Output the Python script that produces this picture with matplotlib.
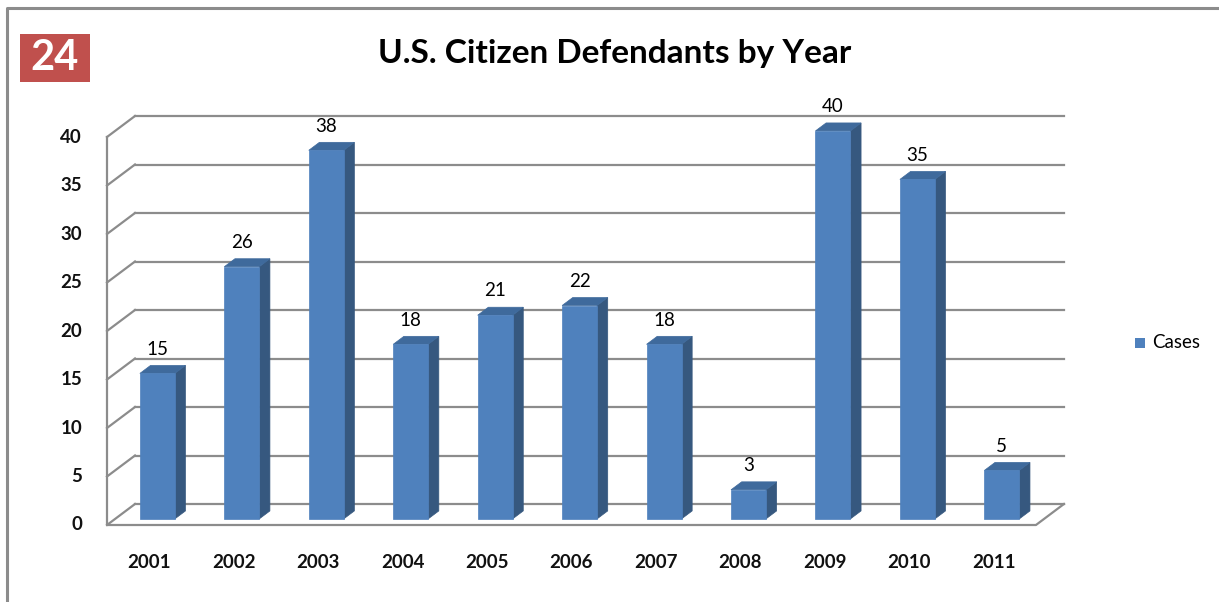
import matplotlib
matplotlib.use('Agg')
import matplotlib.pyplot as plt
from matplotlib.patches import Polygon, Rectangle
from matplotlib.lines import Line2D

# data
years = ['2001', '2002', '2003', '2004', '2005', '2006', '2007', '2008', '2009', '2010', '2011']
cases = [15, 26, 38, 18, 21, 22, 18, 3, 40, 35, 5]
y_ticks = [0, 5, 10, 15, 20, 25, 30, 35, 40]
series_name = 'Cases'
title = 'U.S. Citizen Defendants by Year'
badge = '24'

plt.rcParams['font.family'] = ['Lato', 'DejaVu Sans']

W, H = 1219, 602
fig = plt.figure(figsize=(W / 100, H / 100), dpi=100)

# pseudo-3D layout (pixel geometry of the front plane)
slot_px = 84.45    # width of one category slot
unit_px = 9.7      # pixels per value unit
x0_px = 107        # left edge of front plane
y0_px = 525        # front baseline (from top)
DX = 28 / slot_px  # depth offset in x (category units)
DY = 21 / unit_px  # depth offset in y (value units)
d0, d1 = 0.29, 0.67  # bar depth span
bw = 0.414          # bar width in slots

ax = fig.add_axes([0, 0, 1, 1])
ax.set_xlim(-0.5 - x0_px / slot_px, -0.5 + (W - x0_px) / slot_px)
ax.set_ylim(-(H - y0_px) / unit_px, y0_px / unit_px)
ax.axis('off')


def proj(x, v, d):
    return (x + d * DX, v + d * DY)


n = len(years)
xl_all, xr_all = -0.5, n - 0.5
vmax = max(y_ticks)
grid_c = '#8c8c8c'
glw = 1.6

# back wall gridlines and side wall diagonals
for t in y_ticks:
    a = proj(xl_all, t, 1)
    b = proj(xr_all, t, 1)
    ax.add_line(Line2D([a[0], b[0]], [a[1], b[1]], color=grid_c, lw=glw, zorder=1))
    c = proj(xl_all, t, 0)
    ax.add_line(Line2D([c[0], a[0]], [c[1], a[1]], color=grid_c, lw=glw, zorder=1))

# front vertical axis and floor edges
p = [proj(xl_all, vmax, 0), proj(xl_all, 0, 0), proj(xr_all, 0, 0), proj(xr_all, 0, 1)]
ax.add_line(Line2D([q[0] for q in p], [q[1] for q in p], color=grid_c, lw=glw, zorder=1))

front_c = '#4f81bd'
side_c = '#36587f'
top_c = '#3f6a9c'

for i, v in enumerate(cases):
    xl, xr = i - bw / 2, i + bw / 2
    front = [proj(xl, 0, d0), proj(xr, 0, d0), proj(xr, v, d0), proj(xl, v, d0)]
    side = [proj(xr, 0, d0), proj(xr, 0, d1), proj(xr, v, d1), proj(xr, v, d0)]
    top = [proj(xl, v, d0), proj(xr, v, d0), proj(xr, v, d1), proj(xl, v, d1)]
    ax.add_patch(Polygon(side, closed=True, fc=side_c, ec=side_c, lw=0.5, zorder=3))
    ax.add_patch(Polygon(top, closed=True, fc=top_c, ec=top_c, lw=0.5, zorder=3))
    ax.add_patch(Polygon(front, closed=True, fc=front_c, ec=front_c, lw=0.5, zorder=4))
    lx, ly = proj(i, v, d0)
    ax.text(lx, ly + 2.5, str(v), ha='center', va='center', fontsize=13.5, color='black', zorder=5)
    ax.text(i, -38 / unit_px, years[i], ha='center', va='center', fontsize=13.5,
            fontweight='bold', color='#111111')

for t in y_ticks:
    ax.text(xl_all - 25 / slot_px, t, str(t), ha='right', va='center', fontsize=13.5,
            fontweight='bold', color='#111111')

# title
fig.text(615 / W, 1 - 53 / H, title, ha='center', va='center', fontsize=24, fontweight='bold')

# badge
fig.patches.append(Rectangle((20 / W, 1 - 82 / H), 70 / W, 48 / H, transform=fig.transFigure,
                             fc='#c0504d', ec='none'))
fig.text(55 / W, 1 - 58 / H, badge, ha='center', va='center', fontsize=30, fontweight='bold',
         color='white')

# legend
fig.patches.append(Rectangle((1135 / W, 1 - 348 / H), 10 / W, 10 / H, transform=fig.transFigure,
                             fc=front_c, ec='none'))
fig.text(1152 / W, 1 - 343 / H, series_name, ha='left', va='center', fontsize=13.5)

# outer frame
fig.lines.append(Line2D([7 / W, 7 / W, 1], [0, 1 - 8 / H, 1 - 8 / H], transform=fig.transFigure,
                        color='#8c8c8c', lw=2.2))

fig.savefig('out.png', dpi=100)
